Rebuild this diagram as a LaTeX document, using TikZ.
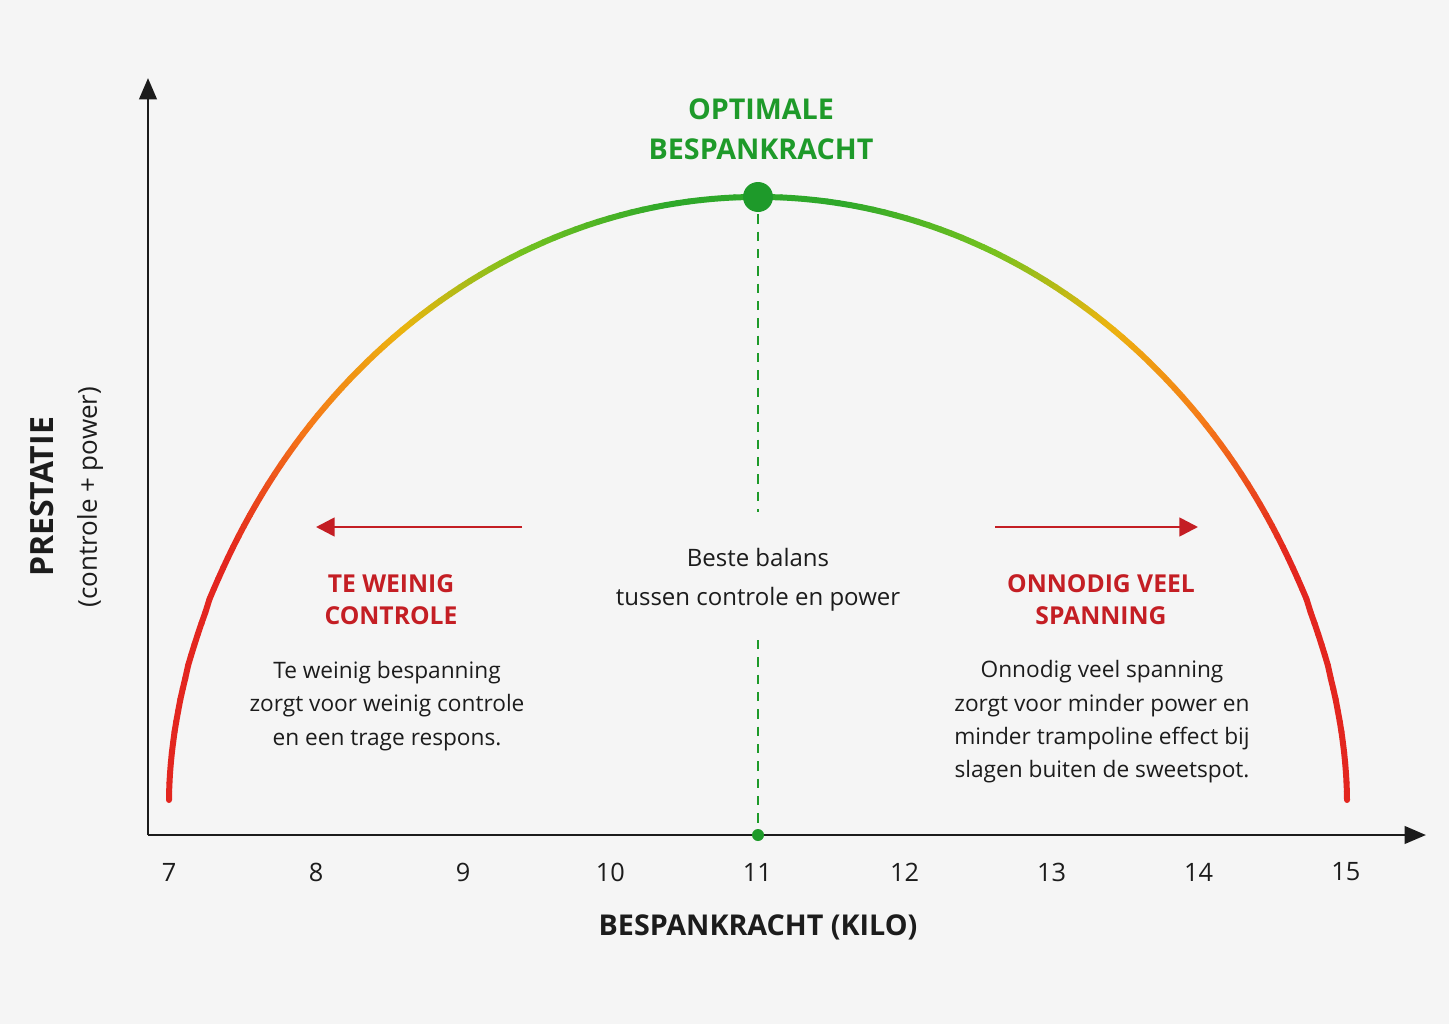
\documentclass[tikz,border=0pt]{standalone}
\usepackage{fontspec}
\setmainfont{Open Sans}
\usetikzlibrary{arrows.meta}
\definecolor{okgreen}{HTML}{1E9A2A}
\definecolor{badred}{HTML}{C41E24}
\definecolor{inkdark}{HTML}{1C1C1C}
\definecolor{curvegreen}{HTML}{2EA82A}
\definecolor{curvelime}{HTML}{74C21F}
\definecolor{curveyellow}{HTML}{EBB40F}
\definecolor{curveorange}{HTML}{F57A18}
\definecolor{curvered}{HTML}{E3261F}
\tikzset{
  axis/.style={line width=2.2pt, inkdark, -{Triangle[length=16pt,width=13pt]}},
  ticklabel/.style={inner sep=0.75pt, font=\fontsize{19}{22}\selectfont, text=inkdark},
  headred/.style={inner sep=0.75pt, align=center, font=\bfseries\fontsize{18.5}{24}\selectfont, text=badred},
  body/.style={inner sep=0.75pt, align=center, font=\fontsize{17}{25}\selectfont, text=inkdark},
  redarrow/.style={line width=2pt, badred, -{Triangle[length=14pt,width=14pt]}},
  guide/.style={okgreen, line width=1.4pt, dash pattern=on 7pt off 6pt}
}
\newcommand{\curvey}[1]{800-603*(max(0,1-(#1)^2))^0.55}
\begin{document}
\begin{tikzpicture}[x=0.75pt,y=0.75pt,yscale=-1,xscale=1]
\fill[white!96!black] (0,0) rectangle (1449,1024);
\useasboundingbox (0,0) rectangle (1449,1024);

% axes
\coordinate (origin) at (148,835);
\coordinate (ytop) at (148,78);
\coordinate (xend) at (1426,835);
\draw[axis] (origin) -- (ytop);
\draw[axis] (origin) -- (xend);

% tick labels
\foreach \k in {7,...,15}
  \node[ticklabel] (tick\k) at ({169+(\k-7)*147.1},872) {\k};

% curve
\foreach \i in {-80,...,79} {
  \pgfmathsetmacro\ta{sin(90*\i/80)}
  \pgfmathsetmacro\tb{sin(90*(\i+1)/80)}
  \pgfmathsetmacro\am{abs(sin(90*(\i+0.5)/80))}
  \ifdim\am pt<0.15pt
    \colorlet{seg}{curvegreen}
  \else\ifdim\am pt<0.4pt
    \pgfmathsetmacro\p{100*(\am-0.15)/0.25}
    \colorlet{seg}{curvelime!\p!curvegreen}
  \else\ifdim\am pt<0.6pt
    \pgfmathsetmacro\p{100*(\am-0.4)/0.2}
    \colorlet{seg}{curveyellow!\p!curvelime}
  \else\ifdim\am pt<0.76pt
    \pgfmathsetmacro\p{100*(\am-0.6)/0.16}
    \colorlet{seg}{curveorange!\p!curveyellow}
  \else
    \pgfmathsetmacro\p{min(100,100*(\am-0.76)/0.14)}
    \colorlet{seg}{curvered!\p!curveorange}
  \fi\fi\fi\fi
  \draw[seg, line width=4.5pt, line cap=round]
    ({758+589*\ta},{\curvey{\ta}}) -- ({758+589*\tb},{\curvey{\tb}});
}

% peak and guide
\coordinate (peak) at (758,197);
\coordinate (gapA) at (758,512);
\coordinate (gapB) at (758,640);
\coordinate (foot) at (758,835);
\draw[guide] (peak) -- (gapA);
\draw[guide] (gapB) -- (foot);
\fill[okgreen] (peak) circle (15);
\fill[okgreen] (foot) circle (6);

% labels
\node[inner sep=0.75pt, align=center, font=\bfseries\fontsize{21.5}{30}\selectfont, text=okgreen] (optimum) at (761,129) {OPTIMALE\\BESPANKRACHT};
\node[body, font=\fontsize{18}{29}\selectfont] (balance) at (758,580) {Beste balans\\tussen controle en power};

\coordinate (lA) at (522,527);
\coordinate (lB) at (316,527);
\coordinate (rA) at (995,527);
\coordinate (rB) at (1198,527);
\draw[redarrow] (lA) -- (lB);
\draw[redarrow] (rA) -- (rB);

\node[headred] (lowhead) at (391,600) {TE WEINIG\\CONTROLE};
\node[body] (lowtext) at (387,706) {Te weinig bespanning\\zorgt voor weinig controle\\en een trage respons.};
\node[headred] (highhead) at (1101,600) {ONNODIG VEEL\\SPANNING};
\node[body] (hightext) at (1102,722) {Onnodig veel spanning\\zorgt voor minder power en\\minder trampoline effect bij\\slagen buiten de sweetspot.};

% axis titles
\node[inner sep=0.75pt, font=\bfseries\fontsize{24}{26}\selectfont, text=inkdark, rotate=90] (ytitle) at (42,497) {PRESTATIE};
\node[inner sep=0.75pt, font=\fontsize{19.5}{22}\selectfont, text=inkdark, rotate=90] (ysub) at (90,497) {(controle + power)};
\node[inner sep=0.75pt, font=\bfseries\fontsize{21.5}{24}\selectfont, text=inkdark] (xtitle) at (758,927) {BESPANKRACHT (KILO)};
\end{tikzpicture}
\end{document}
